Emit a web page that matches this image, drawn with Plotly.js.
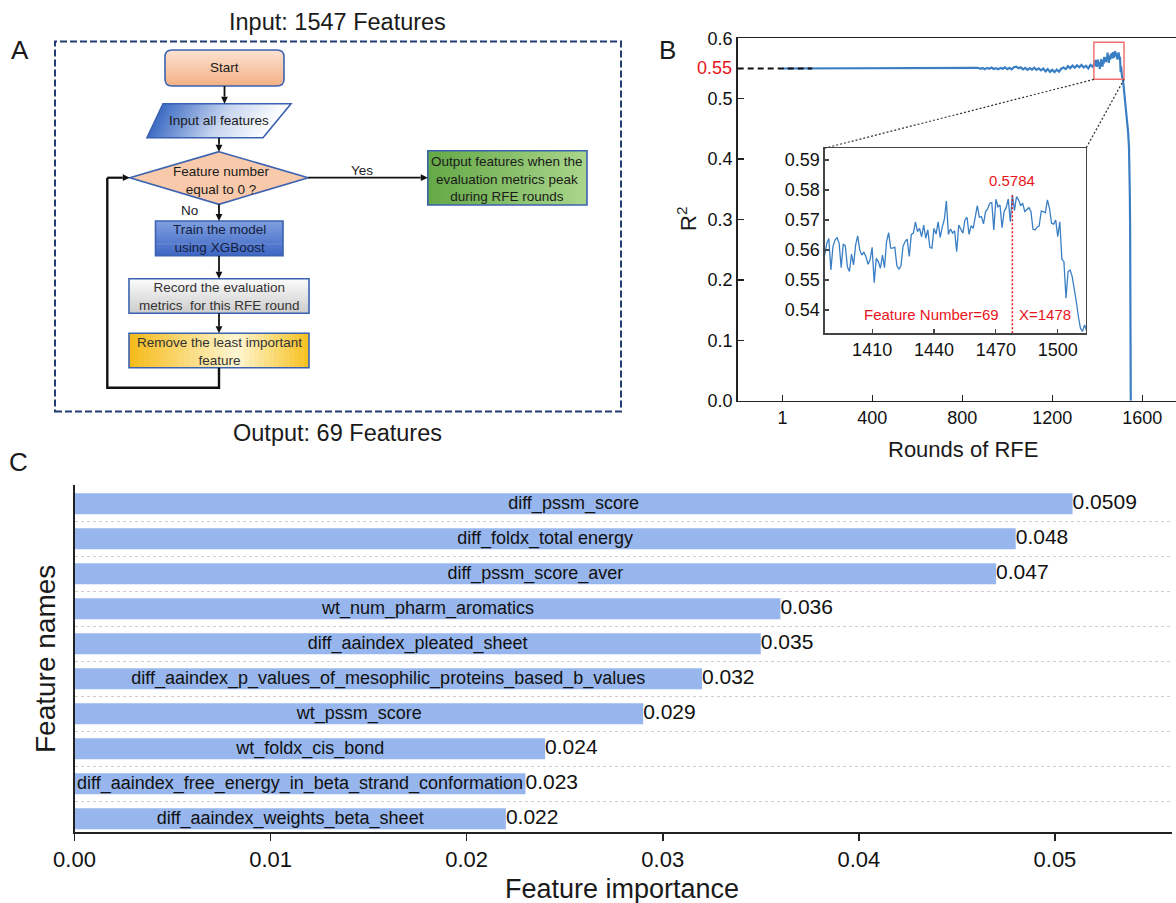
<!DOCTYPE html>
<html>
<head>
<meta charset="utf-8">
<script src="https://cdn.plot.ly/plotly-3.0.1.min.js"></script>
<style>
  html, body { margin: 0; padding: 0; background: #fff; }
  #chart { width: 1176px; height: 903px; }
</style>
</head>
<body>
<div id="chart"></div>
<script>
// ---------------- Data ----------------
// Panel B: model R² recorded at each RFE round
const rfeRound = [
  1, 860, 870, 880, 890, 900, 910, 920, 930, 940, 950, 960, 970, 980, 990,
  1000, 1010, 1020, 1030, 1040, 1050, 1060, 1070, 1080, 1090, 1100, 1110, 1120, 1130, 1140,
  1150, 1160, 1170, 1180, 1190, 1200, 1210, 1220, 1230, 1240, 1250, 1260, 1270, 1280, 1290,
  1300, 1310, 1320, 1330, 1340, 1350, 1360, 1370, 1380,
  1387, 1388, 1389, 1390, 1391, 1392, 1393, 1394, 1395, 1396, 1397, 1398, 1399, 1400,
  1401, 1402, 1403, 1404, 1405, 1406, 1407, 1408, 1409, 1410, 1411, 1412, 1413, 1414,
  1415, 1416, 1417, 1418, 1419, 1420, 1421, 1422, 1423, 1424, 1425, 1426, 1427, 1428,
  1429, 1430, 1431, 1432, 1433, 1434, 1435, 1436, 1437, 1438, 1439, 1440, 1441, 1442,
  1443, 1444, 1445, 1446, 1447, 1448, 1449, 1450, 1451, 1452, 1453, 1454, 1455, 1456,
  1457, 1458, 1459, 1460, 1461, 1462, 1463, 1464, 1465, 1466, 1467, 1468, 1469, 1470,
  1471, 1472, 1473, 1474, 1475, 1476, 1477, 1478, 1479, 1480, 1481, 1482, 1483, 1484,
  1485, 1486, 1487, 1488, 1489, 1490, 1491, 1492, 1493, 1494, 1495, 1496, 1497, 1498,
  1499, 1500, 1501, 1502, 1503, 1504, 1505, 1506, 1507, 1508, 1509, 1510, 1511, 1512,
  1513, 1514, 1516, 1519, 1523, 1528, 1533, 1537, 1541, 1543, 1545, 1546, 1547, 1548, 1549
];
const rfeR2 = [
  0.5500, 0.5500, 0.5512, 0.5494, 0.5508, 0.5489, 0.5511, 0.5497, 0.5515, 0.5492, 0.5506, 0.5488, 0.5510, 0.5495, 0.5518,
  0.5490, 0.5512, 0.5486, 0.5522, 0.5530, 0.5503, 0.5519, 0.5486, 0.5510, 0.5478, 0.5507, 0.5482, 0.5514, 0.5476, 0.5501,
  0.5470, 0.5498, 0.5452, 0.5489, 0.5445, 0.5478, 0.5440, 0.5482, 0.5447, 0.5496, 0.5515, 0.5490, 0.5540, 0.5507, 0.5548,
  0.5512, 0.5552, 0.5519, 0.5558, 0.5515, 0.5546, 0.5502, 0.5560, 0.5528,
  0.5583, 0.5622, 0.5638, 0.5533, 0.5611, 0.5633, 0.5641, 0.5622, 0.5541, 0.5620, 0.5613, 0.5544, 0.5528, 0.5586,
  0.5550, 0.5617, 0.5647, 0.5600, 0.5583, 0.5592, 0.5578, 0.5552, 0.5567, 0.5609, 0.5491, 0.5572, 0.5561, 0.5539,
  0.5583, 0.5541, 0.5628, 0.5658, 0.5606, 0.5606, 0.5609, 0.5547, 0.5536, 0.5547, 0.5613, 0.5628, 0.5636, 0.5578,
  0.5652, 0.5656, 0.5694, 0.5661, 0.5672, 0.5644, 0.5683, 0.5639, 0.5667, 0.5608, 0.5606, 0.5672, 0.5653, 0.5694,
  0.5642, 0.5676, 0.5702, 0.5763, 0.5652, 0.5670, 0.5656, 0.5664, 0.5594, 0.5683, 0.5667, 0.5656, 0.5700, 0.5709,
  0.5652, 0.5681, 0.5672, 0.5717, 0.5748, 0.5709, 0.5711, 0.5687, 0.5728, 0.5737, 0.5756, 0.5758, 0.5667, 0.5769,
  0.5744, 0.5750, 0.5674, 0.5728, 0.5741, 0.5770, 0.5694, 0.5784, 0.5731, 0.5778, 0.5767, 0.5747, 0.5756, 0.5728,
  0.5736, 0.5741, 0.5728, 0.5669, 0.5667, 0.5676, 0.5680, 0.5730, 0.5728, 0.5724, 0.5767, 0.5739, 0.5689, 0.5686,
  0.5700, 0.5644, 0.5694, 0.5569, 0.5561, 0.5439, 0.5528, 0.5533, 0.5511, 0.5472, 0.5428, 0.5378, 0.5339, 0.5328,
  0.5350, 0.5330, 0.5255, 0.5150, 0.5030, 0.4850, 0.4650, 0.4450, 0.4200, 0.3950, 0.3380, 0.2900, 0.2280, 0.1200, 0.0000
];
const roundTicks = [1, 400, 800, 1200, 1600];
const r2Ticks = [0, 0.1, 0.2, 0.3, 0.4, 0.5, 0.6];
const zoomRoundTicks = [1410, 1440, 1470, 1500];
const zoomR2Ticks = [0.54, 0.55, 0.56, 0.57, 0.58, 0.59];
const baselineR2 = 0.55;
const bestRound = 1478;
const bestR2 = 0.5784;
const bestFeatureCount = 69;

// Panel C: top-10 feature importances
const featureNames = [
  'diff_pssm_score',
  'diff_foldx_total energy',
  'diff_pssm_score_aver',
  'wt_num_pharm_aromatics',
  'diff_aaindex_pleated_sheet',
  'diff_aaindex_p_values_of_mesophilic_proteins_based_b_values',
  'wt_pssm_score',
  'wt_foldx_cis_bond',
  'diff_aaindex_free_energy_in_beta_strand_conformation',
  'diff_aaindex_weights_beta_sheet'
];
const importance = [0.0509, 0.048, 0.047, 0.036, 0.035, 0.032, 0.029, 0.024, 0.023, 0.022];
const importanceTicks = [0, 0.01, 0.02, 0.03, 0.04, 0.05];

// Panel A: flowchart step labels
const stepLabels = {
  start: 'Start',
  input: 'Input all features',
  test: 'Feature number<br>equal to 0 ?',
  output: 'Output features when the<br>evaluation metrics peak<br>during RFE rounds',
  train: 'Train the model<br>using XGBoost',
  record: 'Record the evaluation<br>metrics  for this RFE round',
  remove: 'Remove the least important<br>feature',
  yes: 'Yes',
  no: 'No'
};
const inputTitle = 'Input: 1547 Features';
const outputTitle = 'Output: ' + bestFeatureCount + ' Features';

// ---------------- Helpers (pixel -> paper) ----------------
const W = 1176, H = 903;
const X = v => v / W;
const Y = v => 1 - v / H;
const FONT = 'Liberation Sans, Arial, Helvetica, sans-serif';

const shapes = [];
const annotations = [];

function rgb(c) { return 'rgb(' + c.map(Math.round).join(',') + ')'; }
function colorAt(stops, t) {
  for (let i = 1; i < stops.length; i++) {
    if (t <= stops[i][0]) {
      const [p0, c0] = stops[i - 1], [p1, c1] = stops[i];
      const f = (t - p0) / (p1 - p0);
      return c0.map((v, k) => v + (c1[k] - v) * f);
    }
  }
  return stops[stops.length - 1][1];
}
function rectPx(x0, y0, x1, y1, fill) {
  shapes.push({ type: 'rect', xref: 'paper', yref: 'paper',
    x0: X(x0), x1: X(x1), y0: Y(y1), y1: Y(y0),
    fillcolor: fill, line: { width: 0 }, layer: 'above' });
}
function pathPx(pts, fill, line) {
  const d = pts.map((p, i) => (i ? 'L' : 'M') + X(p[0]) + ',' + Y(p[1])).join(' ') + ' Z';
  shapes.push({ type: 'path', xref: 'paper', yref: 'paper', path: d,
    fillcolor: fill || 'rgba(0,0,0,0)', line: line || { width: 0 }, layer: 'above' });
}
// box filled with a gradient made of thin strips; dir 'v' = top->bottom, 'h' = left->right
function gradBox(x0, y0, x1, y1, stops, dir, radius) {
  const n = 36;
  for (let i = 0; i < n; i++) {
    const t0 = i / n, t1 = (i + 1) / n;
    const c = rgb(colorAt(stops, (i + 0.5) / n));
    if (dir === 'v') {
      const a = y0 + (y1 - y0) * t0, b = Math.min(y1, y0 + (y1 - y0) * t1 + 0.7);
      let inset = 0;
      if (radius) {
        const d = Math.min(a - y0, y1 - b);
        if (d < radius) inset = radius - Math.sqrt(radius * radius - (radius - d) * (radius - d));
      }
      rectPx(x0 + inset, a, x1 - inset, b, c);
    } else {
      const a = x0 + (x1 - x0) * t0, b = Math.min(x1, x0 + (x1 - x0) * t1 + 0.7);
      rectPx(a, y0, b, y1, c);
    }
  }
}
function roundedBorder(x0, y0, x1, y1, r, color, width) {
  const P = (x, y) => X(x) + ',' + Y(y);
  const d = 'M' + P(x0 + r, y0) + ' L' + P(x1 - r, y0) + ' Q' + P(x1, y0) + ' ' + P(x1, y0 + r) +
    ' L' + P(x1, y1 - r) + ' Q' + P(x1, y1) + ' ' + P(x1 - r, y1) +
    ' L' + P(x0 + r, y1) + ' Q' + P(x0, y1) + ' ' + P(x0, y1 - r) +
    ' L' + P(x0, y0 + r) + ' Q' + P(x0, y0) + ' ' + P(x0 + r, y0) + ' Z';
  shapes.push({ type: 'path', xref: 'paper', yref: 'paper', path: d,
    line: { color: color, width: width }, layer: 'above' });
}
function boxBorder(x0, y0, x1, y1, color, width) {
  shapes.push({ type: 'rect', xref: 'paper', yref: 'paper',
    x0: X(x0), x1: X(x1), y0: Y(y1), y1: Y(y0),
    line: { color: color, width: width }, layer: 'above' });
}
function label(text, x, y, size, opts) {
  annotations.push(Object.assign({ text: text, xref: 'paper', yref: 'paper',
    x: X(x), y: Y(y), xanchor: 'center', yanchor: 'middle', showarrow: false,
    font: { family: FONT, size: size, color: '#1a1a1a' } }, opts || {}));
}
// straight connector with a filled triangular head at (x1, y1)
function arrow(x0, y0, x1, y1, width) {
  const len = 7, half = 3.4;
  const dx = x1 - x0, dy = y1 - y0, L = Math.hypot(dx, dy);
  const ux = dx / L, uy = dy / L;
  const bx = x1 - ux * len, by = y1 - uy * len;
  shapes.push({ type: 'line', xref: 'paper', yref: 'paper', x0: X(x0), y0: Y(y0), x1: X(bx), y1: Y(by),
    line: { color: '#111', width: width || 1.8 }, layer: 'above' });
  pathPx([[x1, y1], [bx - uy * half, by + ux * half], [bx + uy * half, by - ux * half]], '#111', { width: 0 });
}

// ---------------- Panel A: RFE flowchart ----------------
const BLUE_EDGE = '#3b62b0';
shapes.push({ type: 'rect', xref: 'paper', yref: 'paper', x0: X(55), x1: X(621), y0: Y(411.5), y1: Y(41.5),
  line: { color: '#223d73', width: 2, dash: '7px,3px' }, layer: 'above' });

// Start
gradBox(165, 50, 284, 86, [[0, [252, 226, 210]], [1, [244, 176, 132]]], 'v', 7);
roundedBorder(165, 50, 284, 86, 7, BLUE_EDGE, 1.6);
// Input all features (parallelogram, blue -> white)
(function () {
  const tl = 163, tr = 291, bl = 147, br = 263, yt = 103.7, yb = 137.7, n = 36;
  const stops = [[0, [62, 108, 196]], [0.55, [200, 214, 240]], [1, [255, 255, 255]]];
  for (let i = 0; i < n; i++) {
    const t0 = i / n, t1 = Math.min(1, (i + 1) / n + 0.006);
    pathPx([[tl + (tr - tl) * t0, yt], [tl + (tr - tl) * t1, yt], [bl + (br - bl) * t1, yb], [bl + (br - bl) * t0, yb]],
      rgb(colorAt(stops, (i + 0.5) / n)));
  }
  pathPx([[tl, yt], [tr, yt], [br, yb], [bl, yb]], null, { color: BLUE_EDGE, width: 1.6 });
})();
// Decision diamond
pathPx([[219, 151.7], [308.2, 177.7], [219, 204.3], [129.8, 177.7]], '#f8caab', { color: BLUE_EDGE, width: 1.6 });
// Output box (green)
gradBox(427.8, 150.7, 587, 205, [[0, [100, 168, 70]], [1, [170, 214, 140]]], 'h');
boxBorder(427.8, 150.7, 587, 205, BLUE_EDGE, 1.6);
// Train box (blue)
gradBox(155.5, 221, 283, 255.7, [[0, [128, 160, 224]], [1, [62, 102, 196]]], 'v');
boxBorder(155.5, 221, 283, 255.7, BLUE_EDGE, 1.6);
// Record box (grey)
gradBox(129, 278.7, 309, 313.3, [[0, [252, 252, 252]], [1, [204, 204, 204]]], 'v');
boxBorder(129, 278.7, 309, 313.3, BLUE_EDGE, 1.6);
// Remove box (gold)
gradBox(129, 333.3, 309, 367.7, [[0, [244, 186, 24]], [0.6, [255, 246, 210]], [1, [246, 192, 30]]], 'h');
boxBorder(129, 333.3, 309, 367.7, BLUE_EDGE, 1.6);

// Connectors
arrow(224.5, 86, 224.5, 103.7);
arrow(219, 137.7, 219, 151.7);
arrow(219, 204.3, 219, 221);
arrow(219, 255.7, 219, 278.7);
arrow(219, 313.3, 219, 333.3);
arrow(308.2, 177.7, 427.8, 177.7);
shapes.push({ type: 'path', xref: 'paper', yref: 'paper',
  path: 'M' + X(219) + ',' + Y(367.7) + ' L' + X(219) + ',' + Y(387.7) + ' L' + X(107.3) + ',' + Y(387.7) + ' L' + X(107.3) + ',' + Y(177.7),
  line: { color: '#111', width: 2.4 }, layer: 'above' });
arrow(107.3, 177.7, 129.8, 177.7, 2.2);

// Flowchart text
label(stepLabels.start, 224.5, 68, 13.5);
label(stepLabels.input, 219, 120.5, 13.5);
label(stepLabels.test, 222, 181, 13.5);
label(stepLabels.output, 507.4, 178.5, 13.5);
label(stepLabels.train, 219, 238.7, 13.5, { font: { family: FONT, size: 13.5, color: '#14213d' } });
label(stepLabels.record, 219, 296.3, 13.5, { font: { family: FONT, size: 13.5, color: '#333' } });
label(stepLabels.remove, 219, 351, 13.5, { font: { family: FONT, size: 13.5, color: '#333' } });
label(stepLabels.yes, 362.4, 170, 13.5);
label(stepLabels.no, 189.8, 211, 13.5);
label(inputTitle, 337, 22, 23.5);
label(outputTitle, 337, 433, 23.5);

// Panel letters
label('A', 20, 50, 26);
label('B', 667, 50, 26);
label('C', 18, 462, 26);

// ---------------- Panel B decorations ----------------
// zoom box and connectors to inset (main-axis coordinates)
shapes.push({ type: 'rect', xref: 'x2', yref: 'y2', x0: 1385, x1: 1519, y0: 0.532, y1: 0.5935,
  line: { color: 'rgb(240,112,112)', width: 1.5 }, layer: 'above' });
shapes.push({ type: 'line', xref: 'x2', yref: 'y2', x0: 1385, y0: 0.532, x1: 188, y1: 0.418,
  line: { color: '#333', width: 1.2, dash: '2px,2px' }, layer: 'above' });
shapes.push({ type: 'line', xref: 'x2', yref: 'y2', x0: 1519, y0: 0.532, x1: 1350, y1: 0.418,
  line: { color: '#333', width: 1.2, dash: '2px,2px' }, layer: 'above' });
// baseline guide at R² = 0.55
shapes.push({ type: 'line', xref: 'x2 domain', yref: 'y2', x0: 0, x1: 0.17, y0: baselineR2, y1: baselineR2,
  line: { color: '#111', width: 1.8, dash: '6px,4px' }, layer: 'above' });
annotations.push({ text: String(baselineR2), xref: 'x2 domain', yref: 'y2', x: 0, y: baselineR2,
  xanchor: 'right', yanchor: 'middle', xshift: -4, showarrow: false,
  font: { family: FONT, size: 18, color: '#e8141b' } });
// best round marker in inset
shapes.push({ type: 'line', xref: 'x3', yref: 'y3', x0: bestRound, x1: bestRound, y0: 0.5322, y1: bestR2,
  line: { color: '#e8141b', width: 1.5, dash: '2px,2px' }, layer: 'above' });
annotations.push({ text: String(bestR2), xref: 'x3', yref: 'y3', x: bestRound, y: bestR2,
  yanchor: 'bottom', yshift: 4, showarrow: false, font: { family: FONT, size: 15, color: '#e8141b' } });
annotations.push({ text: 'Feature Number=' + bestFeatureCount, xref: 'x3', yref: 'y3', x: bestRound, y: 0.5386,
  xanchor: 'right', xshift: -11, showarrow: false, font: { family: FONT, size: 15, color: '#e8141b' } });
annotations.push({ text: 'X=' + bestRound, xref: 'x3', yref: 'y3', x: bestRound, y: 0.5386,
  xanchor: 'left', xshift: 5, showarrow: false, font: { family: FONT, size: 15, color: '#e8141b' } });

// Axis titles
label('R<sup>2</sup>', 687, 219, 22, { textangle: -90 });
label('Rounds of RFE', 963, 450, 22);
label('Feature importance', 622, 889, 27);
label('Feature names', 45, 659, 28, { textangle: -90 });

// ---------------- Traces ----------------
const LINE_BLUE = '#3a7fc4';
const barIndex = featureNames.map((_, i) => i);
const gridPos = featureNames.slice(1).map((_, i) => i + 0.5);

const traces = [
  { type: 'bar', orientation: 'h', x: importance, y: barIndex, xaxis: 'x', yaxis: 'y', width: 0.6,
    marker: { color: '#97b6ed', line: { width: 0 } },
    text: featureNames, textposition: 'inside', insidetextanchor: 'middle', textangle: 0,
    textfont: { family: FONT, size: 18, color: '#111' }, hoverinfo: 'skip', cliponaxis: false },
  { type: 'scatter', mode: 'text', x: importance, y: barIndex, xaxis: 'x', yaxis: 'y',
    text: importance.map(String), textposition: 'middle right',
    textfont: { family: FONT, size: 21, color: '#111' }, hoverinfo: 'skip', cliponaxis: false },
  { type: 'scatter', mode: 'lines', x: rfeRound, y: rfeR2, xaxis: 'x2', yaxis: 'y2',
    line: { color: LINE_BLUE, width: 2.2 }, hoverinfo: 'skip' },
  { type: 'scatter', mode: 'lines', x: rfeRound, y: rfeR2, xaxis: 'x3', yaxis: 'y3',
    line: { color: LINE_BLUE, width: 1.3 }, hoverinfo: 'skip' }
];

const axisCommon = { showgrid: false, zeroline: false, showline: true, fixedrange: true };

const layout = {
  width: W, height: H,
  margin: { l: 0, r: 0, t: 0, b: 0 },
  paper_bgcolor: '#fff', plot_bgcolor: 'rgba(0,0,0,0)',
  showlegend: false, hovermode: false,
  font: { family: FONT, color: '#111' },
  uniformtext: { mode: 'show', minsize: 18 },
  bargap: 0.4,
  // Panel C
  xaxis: Object.assign({}, axisCommon, {
    domain: [X(74.5), X(1172)], range: [0, 0.05597], anchor: 'y',
    tickvals: importanceTicks, tickformat: '.2f', ticks: 'outside', ticklen: 7, tickwidth: 1.5,
    tickcolor: '#222', linewidth: 2, linecolor: '#222', tickfont: { size: 22, color: '#111' }
  }),
  yaxis: Object.assign({}, axisCommon, {
    domain: [Y(831.7), Y(485)], range: [9.369, -0.537], anchor: 'x',
    tickvals: gridPos, showticklabels: false, ticks: '', showgrid: true, griddash: 'dot',
    gridcolor: '#cdcdcd', gridwidth: 1, linewidth: 2, linecolor: '#222'
  }),
  // Panel B main
  xaxis2: Object.assign({}, axisCommon, {
    domain: [X(737.7), 1], range: [-198, 1750], anchor: 'y2', mirror: true,
    tickvals: roundTicks, ticks: 'inside', ticklen: 6, tickwidth: 1.3, tickcolor: '#222',
    linewidth: 1.5, linecolor: '#222', tickfont: { size: 18, color: '#111' }
  }),
  yaxis2: Object.assign({}, axisCommon, {
    domain: [Y(400.7), Y(38.3)], range: [0, 0.6], anchor: 'x2',
    tickvals: r2Ticks, tickformat: '.1f', ticks: 'inside', ticklen: 6, tickwidth: 1.3, tickcolor: '#222',
    linewidth: 1.5, linecolor: '#222', tickfont: { size: 18, color: '#111' }
  }),
  // Panel B inset
  xaxis3: Object.assign({}, axisCommon, {
    domain: [X(824.7), X(1086)], range: [1387, 1513.7], anchor: 'y3', mirror: true,
    tickvals: zoomRoundTicks, ticks: 'inside', ticklen: 4, tickwidth: 1.2, tickcolor: '#444',
    linewidth: 1.4, linecolor: '#444', tickfont: { size: 18, color: '#111' }
  }),
  yaxis3: Object.assign({}, axisCommon, {
    domain: [Y(333.3), Y(148.3)], range: [0.5322, 0.5939], anchor: 'x3', mirror: true,
    tickvals: zoomR2Ticks, tickformat: '.2f', ticks: 'inside', ticklen: 4, tickwidth: 1.2, tickcolor: '#444',
    linewidth: 1.4, linecolor: '#444', tickfont: { size: 18, color: '#111' }
  }),
  shapes: shapes,
  annotations: annotations
};

Plotly.newPlot('chart', traces, layout, { staticPlot: true, displayModeBar: false });
</script>
</body>
</html>
